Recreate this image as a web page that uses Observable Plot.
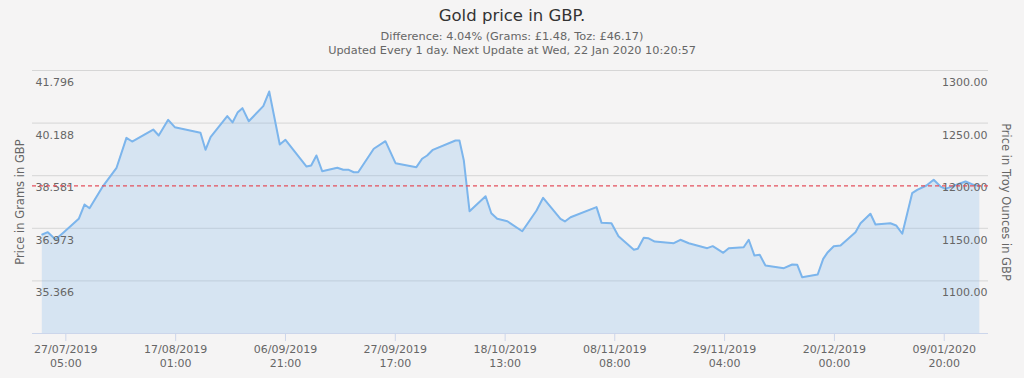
<!DOCTYPE html>
<html>
<head>
<meta charset="utf-8">
<script src="https://cdn.jsdelivr.net/npm/d3@7"></script>
<script src="https://cdn.jsdelivr.net/npm/@observablehq/plot@0.6"></script>
<style>
  html, body { margin: 0; padding: 0; background: #f5f4f4; }
  body { width: 1024px; height: 378px; overflow: hidden; font-family: "DejaVu Sans", sans-serif; }
  #header { position: relative; width: 1024px; height: 60px; }
  #header div { position: absolute; left: 0; width: 1024px; text-align: center; white-space: nowrap; }
  #title { top: 6px; line-height: 20px; font-size: 16.5px; color: #333; }
  #sub1 { top: 30px; line-height: 14px; font-size: 11.3px; color: #666; }
  #sub2 { top: 44px; line-height: 14px; font-size: 11.3px; color: #666; }
  #chart svg { display: block; }
</style>
</head>
<body>
<div id="header">
  <div id="title">Gold price in GBP.</div>
  <div id="sub1">Difference: 4.04% (Grams: £1.48, Toz: £46.17)</div>
  <div id="sub2">Updated Every 1 day. Next Update at Wed, 22 Jan 2020 10:20:57</div>
</div>
<div id="chart"></div>
<script>
// Gold price in GBP per troy ounce
const dates = [
  "2019-07-22 18:00","2019-07-23 19:00","2019-07-25 06:00","2019-07-26 20:00","2019-07-29 16:00",
  "2019-07-30 18:00","2019-07-31 17:00","2019-08-03 03:00","2019-08-05 20:00","2019-08-07 17:00",
  "2019-08-08 19:00","2019-08-12 19:00","2019-08-13 20:00","2019-08-15 15:00","2019-08-16 21:00",
  "2019-08-21 18:00","2019-08-22 17:00","2019-08-23 16:00","2019-08-26 20:00","2019-08-27 20:00",
  "2019-08-28 20:00","2019-08-29 17:00","2019-08-30 22:00","2019-09-02 16:00","2019-09-03 19:00",
  "2019-09-05 19:00","2019-09-06 21:00","2019-09-10 21:00","2019-09-11 18:00","2019-09-12 18:00",
  "2019-09-13 20:00","2019-09-16 17:00","2019-09-17 20:00","2019-09-18 21:00","2019-09-19 20:00",
  "2019-09-20 16:00","2019-09-23 15:00","2019-09-25 20:00","2019-09-27 18:00","2019-10-01 17:00",
  "2019-10-02 19:00","2019-10-03 18:00","2019-10-04 20:00","2019-10-09 03:00","2019-10-09 21:00",
  "2019-10-10 17:00","2019-10-11 19:00","2019-10-14 20:00","2019-10-15 22:00","2019-10-17 01:00",
  "2019-10-18 23:00","2019-10-21 19:00","2019-10-24 12:00","2019-10-25 18:00","2019-10-29 01:00",
  "2019-10-29 21:00","2019-10-30 23:00","2019-11-04 21:00","2019-11-05 20:00","2019-11-07 17:00",
  "2019-11-09 01:00","2019-11-11 23:00","2019-11-12 17:00","2019-11-13 20:00","2019-11-14 16:00",
  "2019-11-15 22:00","2019-11-19 13:00","2019-11-20 19:00","2019-11-22 09:00","2019-11-25 21:00",
  "2019-11-26 22:00","2019-11-27 18:00","2019-11-28 22:00","2019-11-29 23:00","2019-12-02 19:00",
  "2019-12-03 18:00","2019-12-04 20:00","2019-12-05 20:00","2019-12-06 22:00","2019-12-10 10:00",
  "2019-12-12 00:00","2019-12-12 23:00","2019-12-13 21:00","2019-12-16 20:00","2019-12-17 21:00",
  "2019-12-18 18:00","2019-12-19 21:00","2019-12-21 04:00","2019-12-24 00:00","2019-12-24 23:00",
  "2019-12-26 20:00","2019-12-27 19:00","2019-12-30 15:00","2019-12-31 17:00","2020-01-01 21:00",
  "2020-01-03 18:00","2020-01-04 17:00","2020-01-06 11:00","2020-01-07 20:00","2020-01-09 03:00",
  "2020-01-10 02:00","2020-01-12 07:00","2020-01-13 21:00","2020-01-15 10:00","2020-01-16 14:00"
];
const pricesToz = [
  1144.1,1146.3,1139.3,1146.3,1159.0,
  1172.6,1169.1,1189.1,1207.5,1236.0,
  1232.5,1243.9,1238.2,1253.1,1246.1,
  1240.8,1224.6,1236.6,1256.6,1250.6,
  1260.4,1264.2,1251.8,1266.1,1280.0,
  1229.7,1234.1,1208.7,1209.7,1219.2,
  1204.3,1207.5,1205.6,1205.6,1203.3,
  1203.3,1225.6,1232.8,1211.9,1208.1,
  1216.1,1219.2,1224.6,1233.5,1233.5,
  1214.4,1166.3,1180.5,1164.3,1159.0,
  1156.7,1147.2,1166.9,1179.0,1159.0,
  1156.5,1160.5,1170.1,1155.2,1154.8,
  1142.5,1129.6,1130.5,1141.0,1140.6,
  1137.4,1135.8,1139.1,1135.8,1131.1,
  1133.0,1130.5,1126.7,1131.1,1132.0,
  1139.1,1124.1,1124.8,1114.6,1112.1,
  1115.6,1115.3,1103.5,1106.1,1121.0,
  1127.3,1133.0,1133.6,1146.3,1154.8,
  1163.8,1153.6,1154.8,1152.7,1144.8,
  1183.4,1186.6,1190.7,1196.1,1189.7,
  1187.5,1191.6,1194.5,1191.3,1190.3
];
const currentPrice = 1190.3;          // dashed reference line (Toz)
const gramsPerToz = 31.1035;
const yTicksToz = [1100, 1150, 1200, 1250, 1300];
const xTickDates = ["2019-07-27 05:00","2019-08-17 01:00","2019-09-06 21:00","2019-09-27 17:00",
  "2019-10-18 13:00","2019-11-08 08:00","2019-11-29 04:00","2019-12-20 00:00","2020-01-09 20:00"];
const xDomain = ["2019-07-20 21:20", "2020-01-18 05:30"];
const yDomain = [1050, 1300];
const leftTitle = "Price in Grams in GBP";
const rightTitle = "Price in Troy Ounces in GBP";

const parse = d3.utcParse("%Y-%m-%d %H:%M");
const data = dates.map((d, i) => ({date: parse(d), v: pricesToz[i]}));
const xTicks = xTickDates.map(parse);
const fmt = d3.utcFormat("%d/%m/%Y\n%H:%M");

const chart = Plot.plot({
  width: 1024,
  height: 318,
  marginLeft: 32,
  marginRight: 36,
  marginTop: 10,
  marginBottom: 45,
  style: {background: "transparent", fontFamily: "DejaVu Sans, sans-serif", fontSize: "11px"},
  x: {type: "utc", domain: xDomain.map(parse), axis: null},
  y: {domain: yDomain, axis: null},
  marks: [
    Plot.ruleY(yTicksToz, {stroke: "#d6d6d6", strokeWidth: 1}),
    Plot.areaY(data, {x: "date", y1: yDomain[0], y2: "v", fill: "#7cb5ec", fillOpacity: 0.25, curve: "linear"}),
    Plot.lineY(data, {x: "date", y: "v", stroke: "#7cb5ec", strokeWidth: 2, curve: "linear"}),
    Plot.ruleY([yDomain[0]], {stroke: "#ccd6eb", strokeWidth: 1}),
    Plot.text(yTicksToz, {y: d => d, frameAnchor: "left", textAnchor: "start", dx: 3, dy: 12,
      text: d => (d / gramsPerToz).toFixed(3), fill: "#666", fontSize: 11}),
    Plot.text(yTicksToz, {y: d => d, frameAnchor: "right", textAnchor: "end", dx: -1, dy: 12,
      text: d => d.toFixed(2), fill: "#666", fontSize: 11}),
    Plot.ruleY([currentPrice], {stroke: "#e3505d", strokeWidth: 1.3, strokeDasharray: "4,3"}),
    Plot.axisX({ticks: xTicks, tickFormat: fmt, tickSize: 8, tickPadding: 2, stroke: "#ccd6eb",
      color: "#666", fontSize: 11, lineHeight: 1.25}),
    Plot.text([leftTitle], {frameAnchor: "left", textAnchor: "middle", dx: -12, rotate: -90, fill: "#666", fontSize: 11.5}),
    Plot.text([rightTitle], {frameAnchor: "right", textAnchor: "middle", dx: 17, rotate: 90, fill: "#666", fontSize: 11.5})
  ]
});
document.getElementById("chart").appendChild(chart);
</script>
</body>
</html>
